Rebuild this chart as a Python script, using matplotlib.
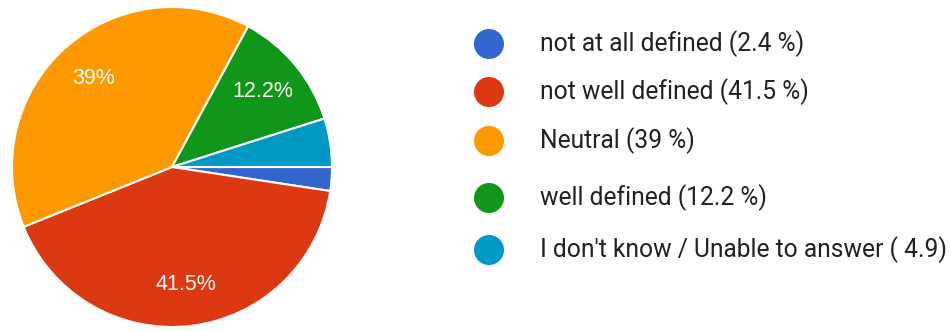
import matplotlib.pyplot as plt

categories = [
    "not at all defined",
    "not well defined",
    "Neutral",
    "well defined",
    "I don't know / Unable to answer",
]
shares = [2.4, 41.5, 39, 12.2, 4.9]
legend_labels = [
    "not at all defined (2.4 %)",
    "not well defined (41.5 %)",
    "Neutral (39 %)",
    "well defined (12.2 %)",
    "I don't know / Unable to answer ( 4.9)",
]
colors = ["#3366cc", "#dc3912", "#ff9900", "#109618", "#0099c6"]

W, H = 950, 331
fig = plt.figure(figsize=(W / 100, H / 100), dpi=100)

# pie, centre at about (172, 167) px with radius 160 px
cx, cy, r = 172, 167, 160
ax = fig.add_axes([(cx - r) / W, (H - cy - r) / H, 2 * r / W, 2 * r / H])


def pct_label(p):
    return f"{p:.3g}%" if p >= 10 else ""


wedges, texts, autotexts = ax.pie(
    shares,
    colors=colors,
    startangle=0,
    counterclock=False,
    radius=1,
    autopct=pct_label,
    pctdistance=0.74,
    wedgeprops=dict(edgecolor="white", linewidth=1.5),
    textprops=dict(color="white", fontsize=15.5, family="Liberation Sans"),
)
ax.set_xlim(-1, 1)
ax.set_ylim(-1, 1)
ax.set_aspect("auto")
ax.axis("off")

# legend drawn by hand in pixel coordinates
lax = fig.add_axes([0, 0, 1, 1])
lax.set_xlim(0, W)
lax.set_ylim(H, 0)
lax.axis("off")
row_y = [44, 92, 141, 198, 250]
for y, lab, col in zip(row_y, legend_labels, colors):
    lax.scatter([489], [y], s=30 ** 2 * 0.52, color=col, edgecolors="none")
    lax.text(540, y, lab, va="center", ha="left", fontsize=17.7,
             family="Roboto", color="#212121")

fig.savefig("out.png", dpi=100)
